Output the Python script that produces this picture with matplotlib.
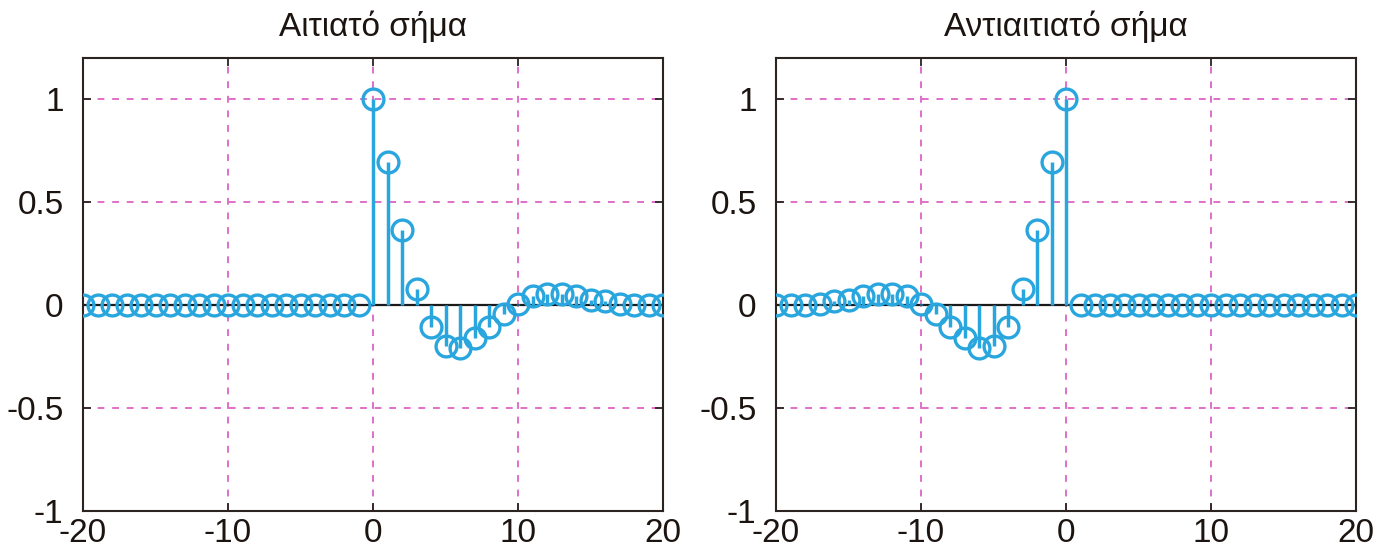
import numpy as np
import matplotlib
matplotlib.use("Agg")
import matplotlib.pyplot as plt

plt.rcParams['font.family'] = ['Liberation Sans', 'DejaVu Sans']
plt.rcParams['axes.unicode_minus'] = False

n = list(range(-20, 21))
# causal response values for n = 0..20 (zero for n < 0)
causal_pos = [1.0, 0.694, 0.363, 0.077, -0.105, -0.197, -0.206, -0.161, -0.105,
              -0.045, 0.005, 0.044, 0.053, 0.053, 0.044, 0.027, 0.019, 0.005,
              0.0, 0.0, 0.0]
causal = [0.0] * 20 + causal_pos
anticausal = causal[::-1]

titles = ['Αιτιατό σήμα', 'Αντιαιτιατό σήμα']
series = [causal, anticausal]
xticks = [-20, -10, 0, 10, 20]
yticks = [-1, -0.5, 0, 0.5, 1]
yticklabels = ['-1', '-0.5', '0', '0.5', '1']

stem_color = '#2aa6df'
grid_color = '#e070c8'
spine_color = '#2b2420'
text_color = '#1c1410'

fig = plt.figure(figsize=(13.77, 5.52), dpi=100)
positions = [[83/1377, 1-511/552, (663-83)/1377, (511-58)/552],
             [776/1377, 1-511/552, (1356-776)/1377, (511-58)/552]]

for pos, title, vals in zip(positions, titles, series):
    ax = fig.add_axes(pos)
    ax.set_xlim(-20, 20)
    ax.set_ylim(-1, 1.2)
    ax.set_xticks(xticks)
    ax.set_yticks(yticks)
    ax.set_yticklabels(yticklabels)
    ax.grid(True, color=grid_color, linestyle=(0, (3.5, 4)), linewidth=1.4)
    ax.axhline(0, color='#1a1a1a', linewidth=1.6, zorder=2)
    markerline, stemlines, baseline = ax.stem(n, vals, basefmt=' ')
    plt.setp(stemlines, color=stem_color, linewidth=2.5)
    plt.setp(markerline, color=stem_color, marker='o', markersize=15,
             markerfacecolor='none', markeredgewidth=2.4, zorder=3)
    for s in ax.spines.values():
        s.set_color(spine_color)
        s.set_linewidth(1.5)
    ax.tick_params(direction='in', top=True, right=True, length=6, width=1.3,
                   color=spine_color, labelsize=24, labelcolor=text_color)
    ax.tick_params(axis='y', pad=14)
    ax.tick_params(axis='x', pad=5)
    ax.set_title(title, fontsize=24, pad=16, color=text_color)

fig.savefig('out.png', dpi=100)
